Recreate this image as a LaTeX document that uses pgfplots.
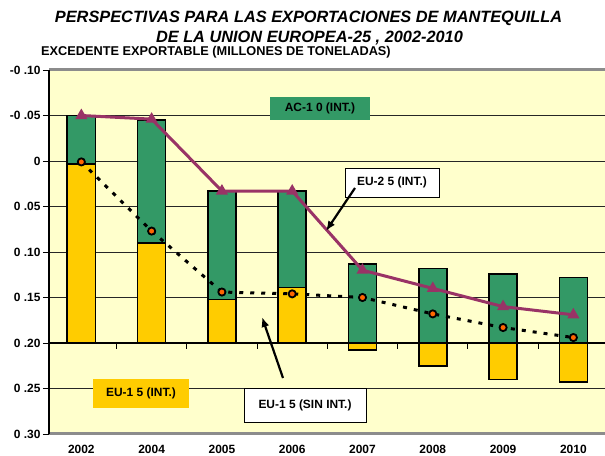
\documentclass[border=0pt]{standalone}
\usepackage{fontspec}
\setmainfont{Liberation Sans}
\usepackage{pgfplots}
\pgfplotsset{compat=1.18}
\usetikzlibrary{arrows.meta}
\definecolor{cGreen}{HTML}{339966}
\definecolor{cGold}{HTML}{FFCC00}
\definecolor{cBack}{HTML}{FFFFCC}
\definecolor{cPlum}{HTML}{993366}
\definecolor{cOrange}{HTML}{FF6600}
% picture coordinates in pixels of the reference (origin top left)
\newcommand{\px}[2]{({#1*1bp},{(456-#2)*1bp})}
\newcommand{\lblfont}{\bfseries\fontsize{12}{14}\selectfont}
\newcommand{\ttlfont}{\bfseries\itshape\fontsize{16.4}{19}\selectfont}

\begin{document}
\begin{tikzpicture}
\useasboundingbox (0,0) rectangle (605bp,456bp);
\fill[white] (0,0) rectangle (605bp,456bp);
\begin{axis}[
  at={(49bp,22bp)}, anchor=south west,
  scale only axis, width=556bp, height=364bp,
  xmin=-0.46, xmax=7.45,
  ymin=-0.10, ymax=0.30,
  y dir=reverse,
  % bars start at 0.20, where the category axis crosses
  y coord trafo/.code={\pgfmathparse{#1-0.2}},
  y coord inv trafo/.code={\pgfmathparse{#1+0.2}},
  ytick={-0.10,-0.05,0,0.05,0.10,0.15,0.20,0.25,0.30},
  yticklabels={-0 .10,-0 .05,0,0 .05,0 .10,0 .15,0 .20,0 .25,0 .30},
  xtick={0,1,2,3,4,5,6,7},
  xticklabels={2002,2004,2005,2006,2007,2008,2009,2010},
  ticklabel style={font=\lblfont},
  xticklabel style={yshift=-2bp},
  yticklabel style={xshift=1bp},
  xtick style={draw=none},
  ytick pos=left,
  tick align=outside,
  major tick length=6bp,
  ytick style={black, line width=1bp},
  axis line style={draw=none},
  axis background/.style={fill=cBack},
  ymajorgrids=true,
  grid style={black!85, line width=0.9bp},
  clip=false,
]

% ---- AC-10 (green) drawn full, EU-15 (yellow) on top -----------------
\addplot[ybar, bar width=0.4, bar shift=0pt, fill=cGreen, draw=black, line width=1.6bp]
  coordinates {(0,-0.050) (1,-0.045) (2,0.033) (3,0.033)
               (4,0.113) (5,0.118) (6,0.124) (7,0.128)};
\addplot[ybar, bar width=0.4, bar shift=0pt, fill=cGold, draw=black, line width=1.6bp]
  coordinates {(0,0.003) (1,0.090) (2,0.152) (3,0.139)
               (4,0.208) (5,0.225) (6,0.240) (7,0.243)};

% ---- category axis at 0.20 ------------------------------------------
\draw[black, line width=1.2bp] (axis cs:-0.46,0.2) -- (axis cs:7.45,0.2);
\pgfplotsinvokeforeach{0.5,1.5,2.5,3.5,4.5,5.5,6.5}{
  \draw[black, line width=1bp] (axis cs:#1,0.2) -- (axis cs:#1,0.2065);
}

% ---- EU-15 without enlargement --------------------------------------
\addplot[black, line width=3bp, dash pattern=on 4bp off 7bp,
  mark=*, mark size=3.6bp,
  mark options={solid, fill=cOrange, draw=black, line width=1.8bp}]
  coordinates {(0,0.001) (1,0.077) (2,0.144) (3,0.146)
               (4,0.150) (5,0.168) (6,0.183) (7,0.194)};

% ---- EU-25 ------------------------------------------------------------
\addplot[cPlum, line width=3bp, mark=triangle*, mark size=4bp,
  mark options={solid}]
  coordinates {(0,-0.050) (1,-0.046) (2,0.033) (3,0.033)
               (4,0.120) (5,0.140) (6,0.160) (7,0.169)};
\end{axis}

% frame of the plot area
\draw[black!45, line width=3bp] \px{49}{70} -- \px{605}{70};
\draw[black!45, line width=3bp] \px{49}{434} -- \px{605}{434};
\draw[black, line width=1.4bp] \px{49}{70} -- \px{49}{434};

% titles
\node[font=\ttlfont] at \px{308.5}{18.5}
  {PERSPECTIVAS PARA LAS EXPORTACIONES DE MANTEQUILLA};
\node[font=\ttlfont] at \px{309.5}{38}
  {DE LA UNION EUROPEA-25 , 2002-2010};
\node[anchor=west, inner sep=0pt, font=\bfseries\fontsize{12.8}{15}\selectfont]
  at \px{41}{52} {EXCEDENTE EXPORTABLE (MILLONES DE TONELADAS)};

% series labels
\node[fill=cGreen, minimum width=100bp, minimum height=23bp, font=\lblfont]
  at \px{320}{108.5} {AC-1 0 (INT.)};
\node[fill=white, draw=black, line width=0.8bp, minimum width=94bp,
  minimum height=29bp, font=\lblfont] at \px{392}{182.5} {EU-2 5 (INT.)};
\node[fill=cGold, minimum width=96bp, minimum height=29bp, font=\lblfont]
  at \px{141}{393.5} {EU-1 5 (INT.)};
\node[fill=white, draw=black, line width=0.8bp, minimum width=122bp,
  minimum height=34bp, font=\lblfont] at \px{305}{405} {EU-1 5 (SIN INT.)};
\draw[-{Latex[length=10bp,width=8bp]}, line width=2.2bp]
  \px{355}{188} -- \px{326}{231};
\draw[-{Latex[length=10bp,width=8bp]}, line width=2.2bp]
  \px{283}{378} -- \px{262}{317};
\end{tikzpicture}
\end{document}
